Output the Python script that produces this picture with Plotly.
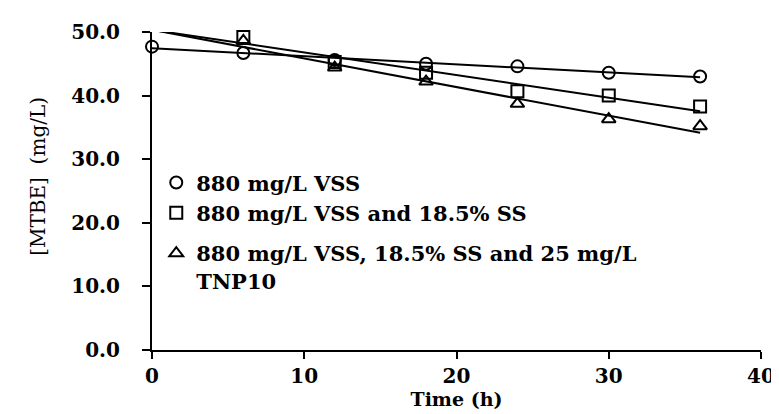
import numpy as np
import plotly.graph_objects as go

time_h = [0, 6, 12, 18, 24, 30, 36]
vss = [47.7, 46.7, 45.6, 45.0, 44.6, 43.6, 43.0]
vss_ss = [50.5, 49.2, 45.3, 43.6, 40.7, 40.0, 38.3]
vss_ss_tnp = [50.3, 48.6, 44.4, 42.2, 38.7, 36.3, 35.2]

names = ["880 mg/L VSS",
         "880 mg/L VSS and 18.5% SS",
         "880 mg/L VSS, 18.5% SS and 25 mg/L<br>TNP10"]
symbols = ["circle-open", "square-open", "triangle-up-open"]
groups = ["a", "a", "b"]
series = [vss, vss_ss, vss_ss_tnp]

x_ticks = [0, 10, 20, 30, 40]
y_ticks = [0, 10, 20, 30, 40, 50]

font_fam = "DejaVu Serif"
fig = go.Figure()

t = np.array(time_h, dtype=float)
for ys in series:
    k, b = np.polyfit(t, np.array(ys), 1)
    fig.add_trace(go.Scatter(x=[t[0], t[-1]], y=[b + k * t[0], b + k * t[-1]],
                             mode="lines", line=dict(color="black", width=2),
                             showlegend=False, hoverinfo="skip", cliponaxis=False))
for ys, nm, sym, g in zip(series, names, symbols, groups):
    fig.add_trace(go.Scatter(x=time_h, y=ys, mode="markers", name=nm, legendgroup=g,
                             marker=dict(symbol=sym, size=12, color="black",
                                         line=dict(color="black", width=2)),
                             cliponaxis=False))

plot_w = 779 - 144 - 20
fig.add_annotation(text="[MTBE]  (mg/L)", textangle=-90, xref="paper", yref="paper",
                   x=-115 / plot_w, y=0.545, xanchor="center", yanchor="middle",
                   showarrow=False, font=dict(family=font_fam, size=20, color="black"))

fig.update_layout(
    width=779, height=414,
    margin=dict(l=144, r=20, t=22, b=72),
    paper_bgcolor="white", plot_bgcolor="white",
    font=dict(family=font_fam, color="black", size=18),
    showlegend=True,
    legend=dict(x=0.007, y=0.59, xanchor="left", yanchor="top", valign="top",
                bgcolor="rgba(0,0,0,0)", font=dict(family=font_fam, size=21, weight="bold"),
                tracegroupgap=10, itemsizing="constant", itemwidth=30),
    xaxis=dict(range=[0, 40], tickvals=x_ticks, ticktext=[str(v) for v in x_ticks],
               showgrid=False, zeroline=False, showline=True, linecolor="black", linewidth=2,
               ticks="outside", ticklen=7, tickwidth=2, tickcolor="black",
               tickfont=dict(family=font_fam, size=20, weight="bold"),
               title=dict(text="Time (h)", font=dict(family=font_fam, size=19, weight="bold"),
                          standoff=6)),
    yaxis=dict(range=[0, 50], tickvals=y_ticks, ticktext=[f"{v:.1f}" for v in y_ticks],
               showgrid=False, zeroline=False, showline=True, linecolor="black", linewidth=2,
               ticks="outside", ticklen=8, tickwidth=2, tickcolor="black",
               ticklabelstandoff=18,
               tickfont=dict(family=font_fam, size=20, weight="bold")),
)

fig.write_html("out.html")
